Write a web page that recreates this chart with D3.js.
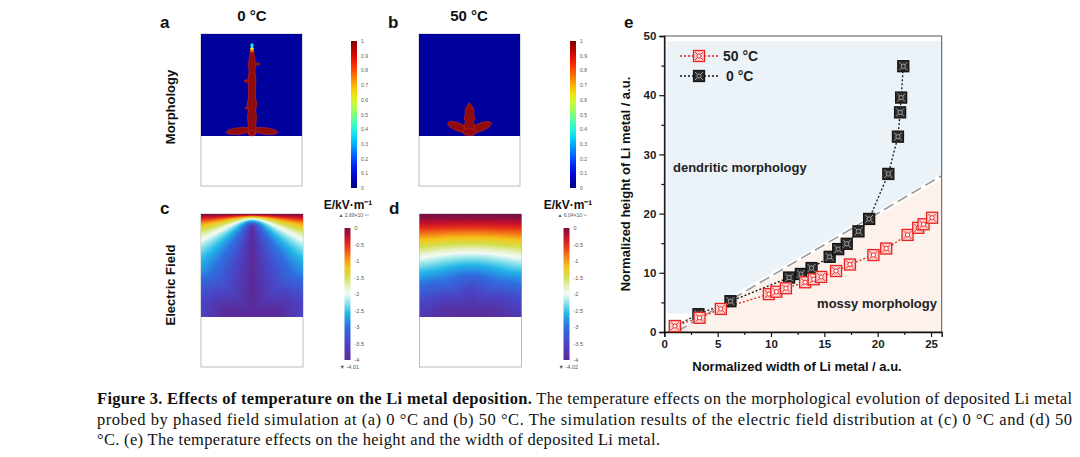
<!DOCTYPE html>
<html>
<head>
<meta charset="utf-8">
<script src="https://cdn.jsdelivr.net/npm/d3@7"></script>
<style>
  body { margin: 0; background: #fff; }
  svg { display: block; }
</style>
</head>
<body>
<div id="fig"></div>
<script>
// ---- panel e data ----
const width50  = [1.0, 3.3, 5.3, 9.8, 10.5, 11.4, 13.2, 14.0, 14.7, 16.1, 17.4, 19.6, 20.8, 22.8, 23.8, 24.3, 25.1];
const height50 = [1.0, 2.4, 3.9, 6.4, 6.8, 7.4, 8.4, 8.9, 9.3, 10.3, 11.4, 13.0, 14.1, 16.4, 17.6, 18.2, 19.3];
const width0   = [1.0, 3.2, 6.2, 11.7, 12.8, 13.8, 15.5, 16.3, 17.1, 18.2, 19.2, 21.0, 21.9, 22.1, 22.2, 22.4];
const height0  = [1.0, 3.0, 5.2, 9.2, 9.8, 10.8, 12.7, 14.0, 14.9, 17.0, 19.1, 26.7, 33.0, 37.1, 39.6, 44.9];
const seriesNames = ["50 \u00b0C", "0 \u00b0C"];
const xTicks = [0, 5, 10, 15, 20, 25];
const yTicks = [0, 10, 20, 30, 40, 50];
const boundaryX = [1.2, 26];
const boundaryY = [0.1, 26.4];

// colour bar ticks
const morphTicks = [0, 0.1, 0.2, 0.3, 0.4, 0.5, 0.6, 0.7, 0.8, 0.9, 1];
const fieldTicks = [0, -0.5, -1, -1.5, -2, -2.5, -3, -3.5, -4];
const fieldMax = ["2.69\u00d710\u207b\u00b9\u2074", "6.04\u00d710\u207b\u00b9\u2077"];
const fieldMin = ["-4.01", "-4.02"];

const captionLines = [
  ["Figure 3. Effects of temperature on the Li metal deposition.", " The temperature effects on the morphological evolution of deposited Li metal"],
  ["", "probed by phased field simulation at (a) 0 \u00b0C and (b) 50 \u00b0C. The simulation results of the electric field distribution at (c) 0 \u00b0C and (d) 50"],
  ["", "\u00b0C. (e) The temperature effects on the height and the width of deposited Li metal."]
];

const W = 1080, H = 457;
const sans = "'Liberation Sans', Arial, sans-serif";

const svg = d3.select("#fig").append("svg")
  .attr("width", W).attr("height", H)
  .attr("viewBox", [0, 0, W, H]);
svg.append("rect").attr("width", W).attr("height", H).attr("fill", "#fff");

const defs = svg.append("defs");

// jet colour map for morphology, rainbow for field
const jet = d3.interpolateRgbBasis(["#00007f", "#0000ff", "#007fff", "#00ffff", "#7fff7f", "#ffff00", "#ff7f00", "#ff0000", "#7f0000"]);
const fieldColor = d3.scaleLinear()
  .domain([0, -0.25, -0.5, -0.85, -1.15, -1.5, -1.8, -2.0, -2.3, -2.6, -3.0, -3.5, -4])
  .range(["#7a1046", "#bf0f2c", "#e42a1c", "#f47e18", "#f6c41a", "#d3df4e", "#e6f2c6", "#f3fbf6", "#82e0e8", "#22b6e8", "#2f6fdf", "#4a45c6", "#5b2a98"])
  .clamp(true);

const gJet = defs.append("linearGradient").attr("id", "jet")
  .attr("x1", 0).attr("y1", 1).attr("x2", 0).attr("y2", 0);
d3.range(0, 1.001, 0.05).forEach(t => gJet.append("stop").attr("offset", t).attr("stop-color", jet(t)));
const gField = defs.append("linearGradient").attr("id", "field")
  .attr("x1", 0).attr("y1", 0).attr("x2", 0).attr("y2", 1);
d3.range(0, 1.001, 0.05).forEach(t => gField.append("stop").attr("offset", t).attr("stop-color", fieldColor(-4 * t)));

// ---------- text labels for panels a-d ----------
function bold(x, y, txt, size, anchor, rot) {
  const t = svg.append("text").attr("x", x).attr("y", y)
    .attr("font-family", sans).attr("font-weight", "bold")
    .attr("font-size", size).attr("fill", "#111")
    .attr("text-anchor", anchor || "start").text(txt);
  if (rot) t.attr("transform", `rotate(${rot},${x},${y})`);
  return t;
}
bold(160, 28, "a", 17);
bold(388, 28, "b", 17);
bold(160, 214, "c", 17);
bold(389, 214, "d", 17);
bold(624, 28, "e", 17);
bold(252, 21, "0 \u00b0C", 15, "middle");
bold(469, 21, "50 \u00b0C", 15, "middle");
bold(175, 107, "Morphology", 13, "middle", -90);
bold(175, 285, "Electric Field", 13, "middle", -90);

// ---------- morphology panels ----------
const morphPanels = [{ x: 201, cx: 252 }, { x: 419, cx: 469.5 }];
morphPanels.forEach(p => {
  svg.append("rect").attr("x", p.x).attr("y", 34).attr("width", 101).attr("height", 152)
    .attr("fill", "#fff").attr("stroke", "#bbb").attr("stroke-width", 1);
  svg.append("rect").attr("x", p.x).attr("y", 34).attr("width", 101).attr("height", 102)
    .attr("fill", jet(0.03));
});
const dendrite = svg.append("g").attr("fill", "#900c0c").attr("stroke", "#c8281a").attr("stroke-width", 0.6);
// panel a: tall dendrite
dendrite.append("ellipse").attr("cx", 239).attr("cy", 131).attr("rx", 13).attr("ry", 3.3).attr("transform", "rotate(-6,239,131)");
dendrite.append("ellipse").attr("cx", 265).attr("cy", 131).attr("rx", 13).attr("ry", 3.3).attr("transform", "rotate(6,265,131)");
dendrite.append("path").attr("d", "M248.5,135 L248,124 L247.5,116 L248.5,110 L247,104 L248.5,98 L248.5,88 L248,80 L249,72 L248.5,64 L249.5,56 L250.5,50 L253.5,50 L254.5,56 L255.5,64 L255,72 L256,80 L255.5,88 L255.5,98 L257,104 L255.5,110 L256.5,116 L256,124 L255.5,135 Z");
dendrite.append("ellipse").attr("cx", 246.5).attr("cy", 81).attr("rx", 2.5).attr("ry", 1.2);
dendrite.append("ellipse").attr("cx", 257.5).attr("cy", 64).attr("rx", 2.5).attr("ry", 1.2);
dendrite.append("ellipse").attr("cx", 247).attr("cy", 108).attr("rx", 2).attr("ry", 1.2);
dendrite.append("circle").attr("cx", 252).attr("cy", 133).attr("r", 3);
svg.append("ellipse").attr("cx", 252).attr("cy", 51).attr("rx", 2.2).attr("ry", 1.4).attr("fill", jet(0.8));
svg.append("ellipse").attr("cx", 252).attr("cy", 48.5).attr("rx", 1.9).attr("ry", 1.6).attr("fill", jet(0.6));
svg.append("ellipse").attr("cx", 252).attr("cy", 45.5).attr("rx", 1.6).attr("ry", 2.2).attr("fill", jet(0.38));
// panel b: short dendrite
dendrite.append("ellipse").attr("cx", 458).attr("cy", 127).attr("rx", 11).attr("ry", 4).attr("transform", "rotate(22,458,127)");
dendrite.append("ellipse").attr("cx", 481).attr("cy", 127).attr("rx", 11).attr("ry", 4).attr("transform", "rotate(-22,481,127)");
dendrite.append("path").attr("d", "M465,135 L464,126 L465.5,122 L464,118 L465.5,114 L465,110 L467,106 L469.5,102.5 L472,106 L474,110 L473.5,114 L475,118 L473.5,122 L475,126 L474,135 Z");
dendrite.append("ellipse").attr("cx", 469.5).attr("cy", 132).attr("rx", 7).attr("ry", 3.5);

// morphology colour bars
[351, 570].forEach(bx => {
  const s = d3.scaleLinear().domain([0, 1]).range([188, 41]);
  svg.append("rect").attr("x", bx).attr("y", 41).attr("width", 6).attr("height", 147).attr("fill", "url(#jet)");
  svg.append("g").selectAll("text").data(morphTicks).join("text")
    .attr("x", bx + 10).attr("y", d => s(d) + 2)
    .attr("font-family", sans).attr("font-size", 5).attr("fill", "#555")
    .text(d => d);
});

// ---------- electric field panels ----------
function segDist(px, py, a, b) {
  const dx = b[0] - a[0], dy = b[1] - a[1];
  const L = dx * dx + dy * dy;
  let t = L ? ((px - a[0]) * dx + (py - a[1]) * dy) / L : 0;
  t = Math.max(0, Math.min(1, t));
  const qx = a[0] + t * dx - px, qy = a[1] + t * dy - py;
  return Math.sqrt(qx * qx + qy * qy);
}
const fieldPanels = [
  { x: 201, segs: [[[51, 14], [51, 103]], [[26, 99], [76, 99]]], k: 0.33, m: 1.0, p: 1.4 },
  { x: 419.5, segs: [[[51, 70], [51, 103]], [[29, 94], [51, 102]], [[73, 94], [51, 102]]], k: 0.354, m: 0.4, p: 1.8 }
];
fieldPanels.forEach(p => {
  const cw = 204, ch = 206;
  const canvas = document.createElement("canvas");
  canvas.width = cw; canvas.height = ch;
  const ctx = canvas.getContext("2d");
  const img = ctx.createImageData(cw, ch);
  for (let j = 0; j < ch; j++) {
    for (let i = 0; i < cw; i++) {
      const x = i / 2, a = j / 2;
      let d = Infinity;
      p.segs.forEach(s => { d = Math.min(d, segDist(x, a, s[0], s[1])); });
      const dEff = p.m * d + (1 - p.m) * (103 - a);
      const g = Math.pow(a / (a + p.k * dEff + 1e-6), p.p);
      const c = d3.rgb(fieldColor(-4 * g));
      const o = (j * cw + i) * 4;
      img.data[o] = c.r; img.data[o + 1] = c.g; img.data[o + 2] = c.b; img.data[o + 3] = 255;
    }
  }
  ctx.putImageData(img, 0, 0);
  svg.append("rect").attr("x", p.x).attr("y", 214).attr("width", 102).attr("height", 153)
    .attr("fill", "#fff").attr("stroke", "#bbb").attr("stroke-width", 1);
  svg.append("image").attr("x", p.x).attr("y", 214).attr("width", 102).attr("height", 103)
    .attr("preserveAspectRatio", "none").attr("href", canvas.toDataURL());
});

// field colour bars
[{ bx: 344.5, tx: 348 }, { bx: 563.5, tx: 568 }].forEach((b, i) => {
  const s = d3.scaleLinear().domain([0, -4]).range([228, 360]);
  svg.append("text").attr("x", b.tx).attr("y", 209).attr("text-anchor", "middle")
    .attr("font-family", sans).attr("font-weight", "bold").attr("font-size", 12).attr("fill", "#111")
    .text("E/kV\u00b7m\u207b\u00b9");
  svg.append("text").attr("x", b.bx - 6).attr("y", 217)
    .attr("font-family", sans).attr("font-size", 5).attr("fill", "#555")
    .text("\u25b2 " + fieldMax[i]);
  svg.append("rect").attr("x", b.bx).attr("y", 228).attr("width", 6).attr("height", 132).attr("fill", "url(#field)");
  svg.append("g").selectAll("text").data(fieldTicks).join("text")
    .attr("x", b.bx + 10).attr("y", d => s(d) + 2)
    .attr("font-family", sans).attr("font-size", 5.5).attr("fill", "#555")
    .text(d => d);
  svg.append("text").attr("x", b.bx - 5).attr("y", 369)
    .attr("font-family", sans).attr("font-size", 5.5).attr("fill", "#555")
    .text("\u25bc " + fieldMin[i]);
});

// ---------- panel e ----------
const x = d3.scaleLinear().domain([0, 26]).range([664.3, 941.7]);
const y = d3.scaleLinear().domain([0, 50]).range([332, 36]);

// morphology regions
const slope = (boundaryY[1] - boundaryY[0]) / (boundaryX[1] - boundaryX[0]);
const bLine = v => boundaryY[0] + slope * (v - boundaryX[0]);
const blueRegion = [[0.5, 48.6], [25.8, 48.6], [25.8, bLine(25.8) + 0.9], [3.4, bLine(3.4) + 1.2], [0.5, 3.6]];
const pinkRegion = [[0.3, 0.3], [25.9, 0.3], [25.9, bLine(25.9) - 0.8], [1.6, 0.3]];
const regionLine = d3.line().x(d => x(d[0])).y(d => y(d[1])).curve(d3.curveLinearClosed);
svg.append("path").attr("d", regionLine(blueRegion)).attr("fill", "#ebf2f8")
  .attr("stroke", "#ebf2f8").attr("stroke-width", 6).attr("stroke-linejoin", "round");
svg.append("path").attr("d", regionLine(pinkRegion)).attr("fill", "#fdf1ec")
  .attr("stroke", "#fdf1ec").attr("stroke-width", 2).attr("stroke-linejoin", "round");

// dashed boundary
svg.append("line")
  .attr("x1", x(boundaryX[0])).attr("y1", y(boundaryY[0]))
  .attr("x2", x(boundaryX[1])).attr("y2", y(boundaryY[1]))
  .attr("stroke", "#9a9a9a").attr("stroke-width", 1.6).attr("stroke-dasharray", "11,5");

// frame (top/right)
svg.append("rect").attr("x", x(0)).attr("y", y(50)).attr("width", x(26) - x(0)).attr("height", y(0) - y(50))
  .attr("fill", "none").attr("stroke", "#555").attr("stroke-width", 1);

// axes
const xAxis = svg.append("g").attr("transform", `translate(0,${y(0)})`)
  .call(d3.axisBottom(x).tickValues(xTicks).tickSize(5).tickPadding(3));
svg.append("g").attr("transform", `translate(0,${y(0)})`)
  .call(d3.axisBottom(x).tickValues(d3.range(2.5, 26, 5)).tickSize(3).tickFormat(""))
  .select(".domain").remove();
const yAxis = svg.append("g").attr("transform", `translate(${x(0)},0)`)
  .call(d3.axisLeft(y).tickValues(yTicks).tickSize(5).tickPadding(3));
svg.append("g").attr("transform", `translate(${x(0)},0)`)
  .call(d3.axisLeft(y).tickValues(d3.range(5, 50, 10)).tickSize(3).tickFormat(""))
  .select(".domain").remove();
[xAxis, yAxis].forEach(a => {
  a.select(".domain").attr("stroke", "#111").attr("stroke-width", 1.4);
  a.selectAll(".tick text").attr("font-family", sans).attr("font-weight", "bold")
    .attr("font-size", 11.5).attr("fill", "#222");
});
svg.selectAll(".tick line").attr("stroke", "#111").attr("stroke-width", 1.2);

bold(797, 371, "Normalized width of Li metal / a.u.", 13, "middle");
bold(630, 184, "Normalized height of Li metal / a.u.", 13, "middle", -90);
bold(673, 172, "dendritic morphology", 13, "start").attr("fill", "#222");
bold(937, 308, "mossy morphology", 13, "end").attr("fill", "#222");

// series
const styles = [
  { stroke: "#e8231e", fill: "#fcd0cf", inner: "#e8231e", dot: "#fff" },
  { stroke: "#151515", fill: "#2c2c2c", inner: "#a8a8a8", dot: "#2c2c2c" }
];
const series = [
  d3.zip(width50, height50),
  d3.zip(width0, height0)
];
function marker(g, s) {
  g.append("rect").attr("x", -5.5).attr("y", -5.5).attr("width", 11).attr("height", 11)
    .attr("fill", s.fill).attr("stroke", s.stroke).attr("stroke-width", 1.3);
  g.append("path").attr("d", "M-4,-4L4,4M-4,4L4,-4").attr("stroke", s.inner).attr("stroke-width", 0.9);
  g.append("circle").attr("r", 2.1).attr("fill", s.dot).attr("stroke", s.inner).attr("stroke-width", 0.9);
}
const line = d3.line().x(d => x(d[0])).y(d => y(d[1]));
[1, 0].forEach(i => {
  svg.append("path").attr("d", line(series[i])).attr("fill", "none")
    .attr("stroke", styles[i].stroke).attr("stroke-width", 1.3).attr("stroke-dasharray", "2,2");
});
[1, 0].forEach(i => {
  svg.append("g").selectAll("g").data(series[i]).join("g")
    .attr("transform", d => `translate(${x(d[0])},${y(d[1])})`)
    .each(function () { marker(d3.select(this), styles[i]); });
});

// legend
seriesNames.forEach((name, i) => {
  const ly = 56 + i * 20;
  svg.append("line").attr("x1", 680).attr("x2", 718).attr("y1", ly).attr("y2", ly)
    .attr("stroke", styles[i].stroke).attr("stroke-width", 1.3).attr("stroke-dasharray", "2,2");
  marker(svg.append("g").attr("transform", `translate(699,${ly})`), styles[i]);
  bold(i === 0 ? 723 : 726, ly + 5, name, 14).attr("fill", "#222");
});

// ---------- caption ----------
const cap = svg.append("g").attr("font-family", "'Liberation Serif', 'Times New Roman', serif")
  .attr("font-size", 16.5).attr("fill", "#111");
const capWidths = [975, 975, 563];
captionLines.forEach((ln, i) => {
  const t = cap.append("text").attr("x", 97).attr("y", 404 + i * 20.5)
    .attr("textLength", capWidths[i]).attr("lengthAdjust", "spacing");
  if (ln[0]) t.append("tspan").attr("font-weight", "bold").text(ln[0]);
  t.append("tspan").text(ln[1]);
});
</script>
</body>
</html>
